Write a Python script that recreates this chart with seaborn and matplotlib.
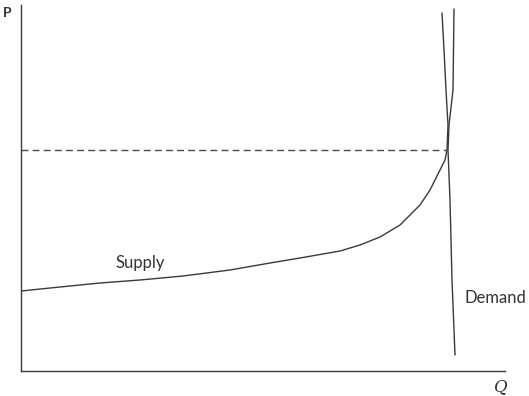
import matplotlib
matplotlib.use("Agg")
import matplotlib.pyplot as plt
import seaborn as sns

sns.set_style("white")
plt.rcParams['font.family'] = ['Lato', 'DejaVu Sans']

# Supply curve (Q, P)
supply_q = [0, 39, 79, 119, 162, 209, 249, 279, 319, 339, 359, 379, 399, 409,
            419, 424, 426, 427, 425, 423, 421]
supply_p = [80, 84, 88, 91, 95, 101, 108, 113, 120, 126, 134, 146, 166, 181,
            201, 211, 221, 246, 281, 321, 358]

# Demand curve (Q, P)
demand_q = [433, 432, 428, 427, 429, 431, 434]
demand_p = [362, 281, 246, 221, 171, 91, 16]

# Equilibrium price level (dashed)
eq_q = [0, 426]
eq_p = [221, 221]

line_color = "#3a3a3a"

fig = plt.figure(figsize=(5.29, 3.96), dpi=100)
ax = fig.add_axes([21/529, 25/396, (505-21)/529, (371-5)/396])

sns.lineplot(x=supply_q, y=supply_p, sort=False, estimator=None, ax=ax,
             color=line_color, linewidth=1.0)
sns.lineplot(x=demand_q, y=demand_p, sort=False, estimator=None, ax=ax,
             color=line_color, linewidth=1.0)
sns.lineplot(x=eq_q, y=eq_p, sort=False, estimator=None, ax=ax,
             color="#4a4a4a", linewidth=1.0, linestyle=(0, (5, 3)))

ax.set_xlim(0, 484)
ax.set_ylim(0, 366)
ax.set_xticks([])
ax.set_yticks([])
ax.set_xlabel("")
ax.set_ylabel("")
for s in ["top", "right"]:
    ax.spines[s].set_visible(False)
for s in ["left", "bottom"]:
    ax.spines[s].set_color(line_color)
    ax.spines[s].set_linewidth(1.0)

ax.text(119, 108, "Supply", fontsize=12, color="#333333", ha="center", va="center")
ax.text(474, 73, "Demand", fontsize=12, color="#333333", ha="center", va="center")
fig.text(7/529, 1 - 13/396, "P", fontsize=10, color="#333333", ha="center", va="center",
         fontweight="bold")
fig.text(501/529, 1 - 387/396, "Q", fontsize=12, color="#333333", ha="center", va="center",
         fontstyle="italic", family=["DejaVu Serif"])

fig.savefig("out.png", dpi=100)
